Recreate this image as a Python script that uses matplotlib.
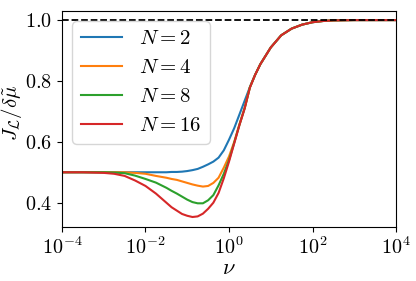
import numpy as np
import matplotlib
matplotlib.use("Agg")
import matplotlib.pyplot as plt
from matplotlib.ticker import LogLocator, NullLocator

plt.rcParams["font.family"] = "serif"
plt.rcParams["font.serif"] = ["cmr10"]
plt.rcParams["mathtext.fontset"] = "cm"
plt.rcParams["axes.unicode_minus"] = False
plt.rcParams["axes.formatter.use_mathtext"] = True

# log10(nu) sample points (finer where the curves bend)
log_nu = [-4.0, -3.5, -3.0, -2.75, -2.5, -2.25, -2.0, -1.75, -1.5, -1.375,
          -1.25, -1.125, -1.0, -0.875, -0.75, -0.625, -0.5, -0.375, -0.25, -0.125,
          0.0, 0.125, 0.25, 0.375, 0.5, 0.625, 0.75, 1.0, 1.25, 1.5,
          1.75, 2.0, 2.25, 2.5, 3.0, 4.0]

ratio_N2 = [0.5, 0.5, 0.5, 0.5, 0.5, 0.5, 0.5, 0.5, 0.5, 0.501,
            0.501, 0.502, 0.504, 0.507, 0.511, 0.518, 0.526, 0.535, 0.548, 0.572,
            0.607, 0.645, 0.69, 0.735, 0.78, 0.82, 0.855, 0.91, 0.95, 0.972,
            0.985, 0.993, 0.997, 0.999, 1.0, 1.0]
ratio_N4 = [0.5, 0.5, 0.5, 0.5, 0.5, 0.498, 0.495, 0.488, 0.482, 0.478,
            0.475, 0.47, 0.465, 0.46, 0.456, 0.453, 0.455, 0.465, 0.482, 0.515,
            0.552, 0.6, 0.658, 0.712, 0.779, 0.82, 0.855, 0.91, 0.95, 0.972,
            0.985, 0.993, 0.997, 0.999, 1.0, 1.0]
ratio_N8 = [0.5, 0.5, 0.5, 0.499, 0.497, 0.489, 0.478, 0.466, 0.449, 0.439,
            0.43, 0.42, 0.41, 0.402, 0.398, 0.398, 0.408, 0.425, 0.457, 0.495,
            0.54, 0.597, 0.656, 0.71, 0.779, 0.82, 0.855, 0.91, 0.95, 0.972,
            0.985, 0.993, 0.997, 0.999, 1.0, 1.0]
ratio_N16 = [0.5, 0.5, 0.498, 0.495, 0.488, 0.473, 0.455, 0.43, 0.40, 0.385,
             0.374, 0.363, 0.357, 0.353, 0.355, 0.364, 0.38, 0.40, 0.432, 0.48,
             0.535, 0.595, 0.655, 0.71, 0.778, 0.82, 0.855, 0.91, 0.95, 0.972,
             0.985, 0.993, 0.997, 0.999, 1.0, 1.0]

N_values = [2, 4, 8, 16]
curves = [ratio_N2, ratio_N4, ratio_N8, ratio_N16]

nu = 10.0 ** np.array(log_nu)

fig = plt.figure(figsize=(4.16, 2.81), dpi=100)
ax = fig.add_axes([0.149, 0.192, 0.803, 0.769])

for n, y in zip(N_values, curves):
    ax.plot(nu, y, lw=1.5, label=r"$N = %d$" % n)
ax.axhline(1.0, color="k", ls="--", lw=1.3, zorder=3)

ax.set_xscale("log")
ax.set_xlim(1e-4, 1e4)
ax.set_ylim(0.32, 1.03)
ax.xaxis.set_major_locator(LogLocator(base=100.0))
ax.xaxis.set_minor_locator(NullLocator())
ax.set_yticks([0.4, 0.6, 0.8, 1.0])
ax.tick_params(labelsize=14.5)

ax.set_xlabel(r"$\nu$", fontsize=16, labelpad=0)
ax.set_ylabel(r"$J_{\mathcal{L}}/\delta\tilde{\mu}$", fontsize=15)
ax.yaxis.set_label_coords(-0.113, 0.53)
ax.legend(loc="upper left", fontsize=15, handlelength=2.0)

fig.savefig("out.png", dpi=100)
